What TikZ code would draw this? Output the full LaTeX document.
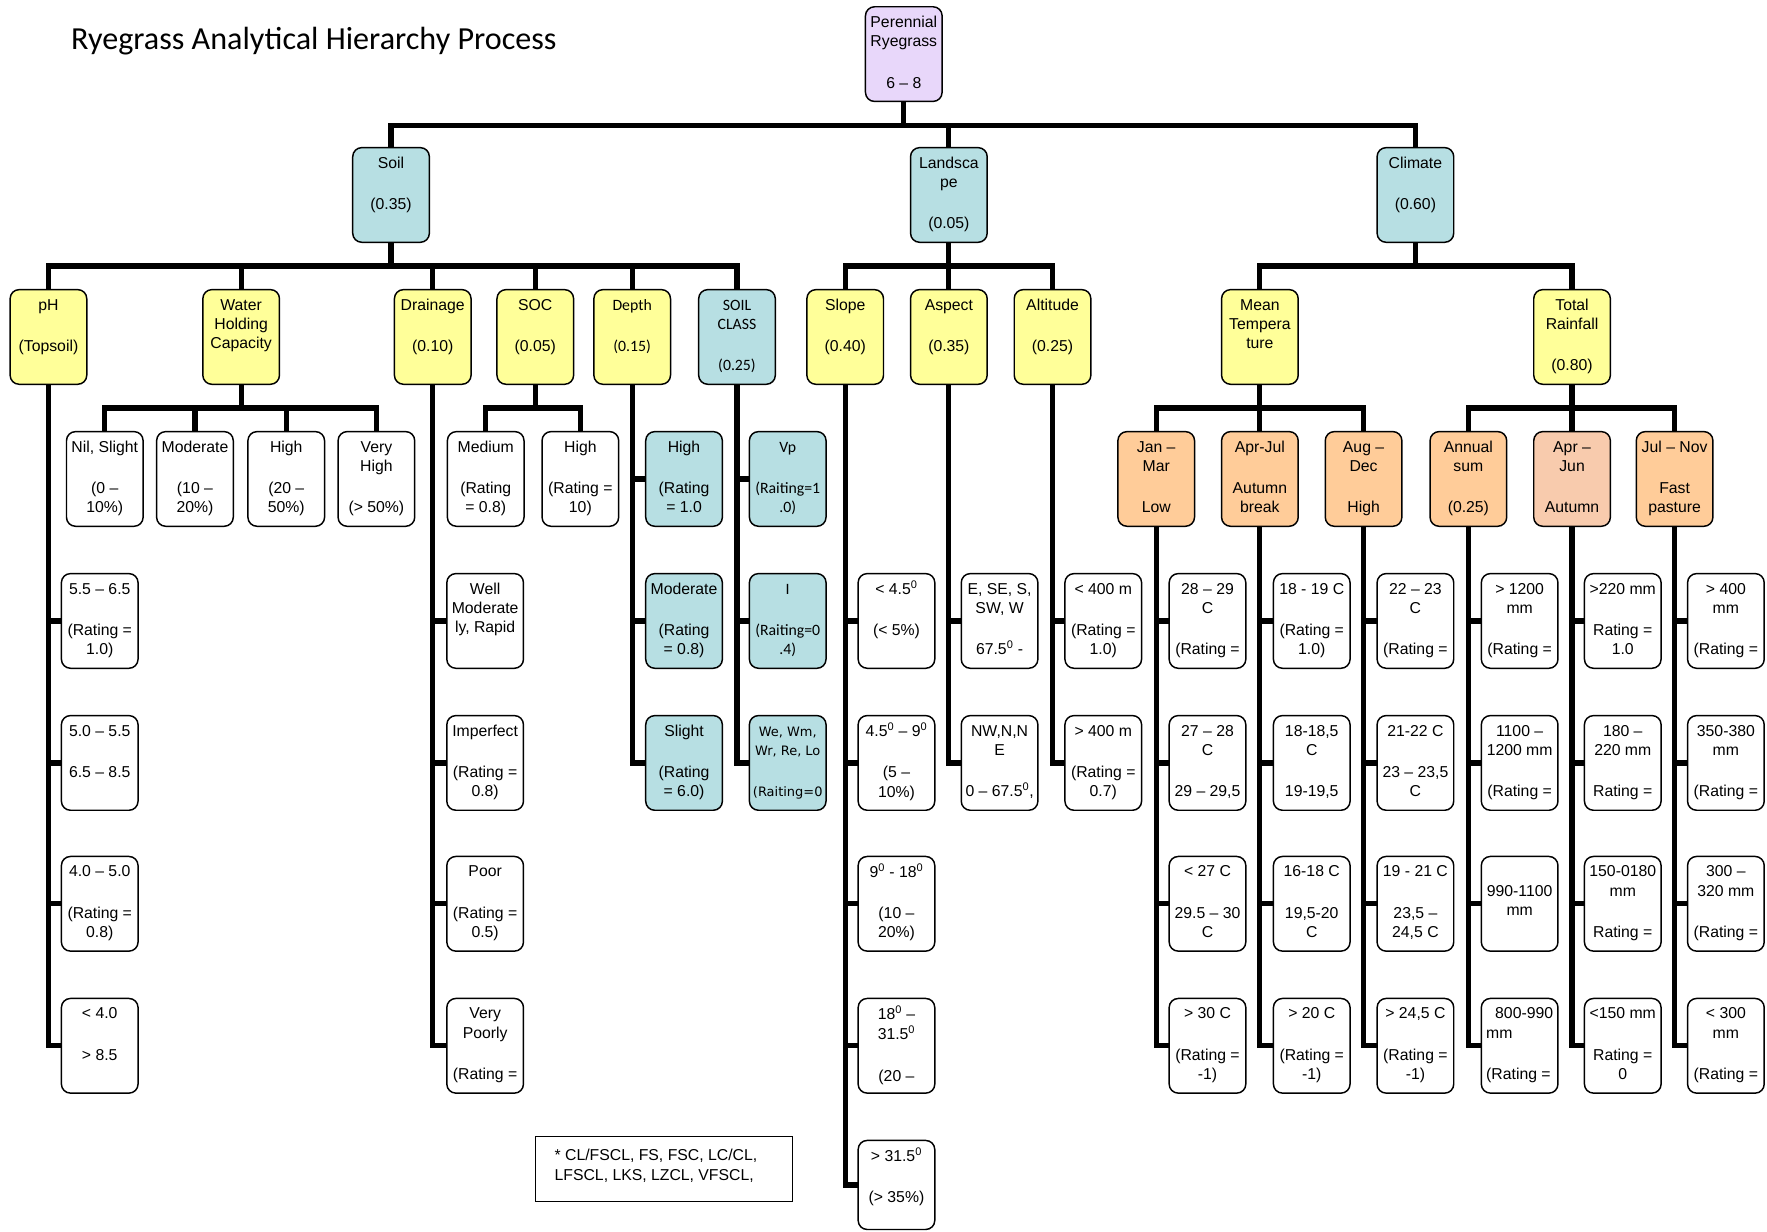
\documentclass[tikz,border=0pt]{standalone}
\usepackage{fontspec}
\setmainfont{Liberation Sans}
\newfontfamily\calibrifont{Carlito}
\newfontfamily\dejavufont{DejaVu Sans}
\usetikzlibrary{backgrounds}
\definecolor{cyel}{HTML}{FFFF99}
\definecolor{cblue}{HTML}{B7DFE3}
\definecolor{corange}{HTML}{FFCC99}
\definecolor{cpeach}{HTML}{F8CBAD}
\definecolor{cpurple}{HTML}{E8D7FA}

% \bx[text options]{box style}{name}{centre x}{top y}{text}
\newcommand\bx[6][]{%
  \node[#2] (#3) at (#4,{-(#5)-42}) {};
  \node[txt,#1] at ([yshift=-6pt]#3.north) {\strut#6};
}
\newcommand\dg{\textsuperscript{0}}

\begin{document}
\begin{tikzpicture}[x=1pt,y=1pt,
  box/.style={draw,line width=1.3pt,rounded corners=8pt,minimum width=68pt,
    minimum height=84pt,inner sep=0pt,outer sep=0pt},
  wbox/.style={box,fill=white},
  ybox/.style={box,fill=cyel},
  bbox/.style={box,fill=cblue},
  obox/.style={box,fill=corange},
  pbox/.style={box,fill=cpeach},
  rbox/.style={box,fill=cpurple},
  txt/.style={anchor=north,align=center,inner sep=0pt,
    font=\fontsize{14}{17}\selectfont},
  cal/.style={font=\calibrifont\fontsize{14}{17}\selectfont},
  dvs/.style={font=\dejavufont\fontsize{11.5}{17}\selectfont},
  link/.style={line width=4.6pt,line join=miter},
]
\useasboundingbox (0,0) rectangle (1568,-1093);

\node[anchor=base west,inner sep=0pt,font=\calibrifont\fontsize{28.5}{34}\selectfont]
  (title) at (63,-44) {Ryegrass Analytical Hierarchy Process};

% goal
\bx{rbox}{root}{802}{6}{Perennial\\Ryegrass\\[20pt]6 – 8}

% criteria
\bx{bbox}{soil}{347}{131}{Soil\\[20pt](0.35)}
\bx{bbox}{land}{842}{131}{Landsca\\pe\\[20pt](0.05)}
\bx{bbox}{clim}{1256}{131}{Climate\\[20pt](0.60)}

% sub-criteria
\bx{ybox}{ph}{43}{257}{pH\\[20pt](Topsoil)}
\bx{ybox}{whc}{214}{257}{Water\\Holding\\Capacity}
\bx{ybox}{drain}{384}{257}{Drainage\\[20pt](0.10)}
\bx{ybox}{soc}{475}{257}{SOC\\[20pt](0.05)}
\bx[cal]{ybox}{depth}{561}{257}{Depth\\[20pt](0.15)}
\bx[cal]{bbox}{sclass}{654}{257}{SOIL\\CLASS\\[20pt](0.25)}
\bx{ybox}{slope}{750}{257}{Slope\\[20pt](0.40)}
\bx{ybox}{aspect}{842}{257}{Aspect\\[20pt](0.35)}
\bx{ybox}{alt}{934}{257}{Altitude\\[20pt](0.25)}
\bx{ybox}{mtemp}{1118}{257}{Mean\\Tempera\\ture}
\bx{ybox}{rain}{1395}{257}{Total\\Rainfall\\[20pt](0.80)}

% row at y = 383
\bx{wbox}{w1}{93}{383}{Nil, Slight\\[20pt](0 –\\10\%)}
\bx{wbox}{w2}{173}{383}{Moderate\\[20pt](10 –\\20\%)}
\bx{wbox}{w3}{254}{383}{High\\[20pt](20 –\\50\%)}
\bx{wbox}{w4}{334}{383}{Very\\High\\[20pt](> 50\%)}
\bx{wbox}{soc1}{431}{383}{Medium\\[20pt](Rating\\= 0.8)}
\bx{wbox}{soc2}{515}{383}{High\\[20pt](Rating =\\10)}
\bx{bbox}{dep1}{607}{383}{High\\[20pt](Rating\\= 1.0}
\bx[cal]{bbox}{sc1}{699}{383}{Vp\\[20pt](Raiting=1\\.0)}
\bx{obox}{jm}{1026}{383}{Jan –\\Mar\\[20pt]Low}
\bx{obox}{aj}{1118}{383}{Apr-Jul\\[20pt]Autumn\\break}
\bx{obox}{ad}{1210}{383}{Aug –\\Dec\\[20pt]High}
\bx{obox}{as}{1303}{383}{Annual\\sum\\[20pt](0.25)}
\bx{pbox}{aju}{1395}{383}{Apr –\\Jun\\[20pt]Autumn}
\bx{obox}{jn}{1486}{383}{Jul – Nov\\[20pt]Fast\\pasture}

% pH classes
\bx{wbox}{ph1}{88.5}{509}{5.5 – 6.5\\[20pt](Rating =\\1.0)}
\bx{wbox}{ph2}{88.5}{635}{5.0 – 5.5\\[20pt]6.5 – 8.5}
\bx{wbox}{ph3}{88.5}{760}{4.0 – 5.0\\[20pt](Rating =\\0.8)}
\bx{wbox}{ph4}{88.5}{886}{< 4.0\\[20pt]> 8.5}

% drainage classes
\bx{wbox}{dr1}{430.5}{509}{Well\\Moderate\\ly, Rapid}
\bx{wbox}{dr2}{430.5}{635}{Imperfect\\[20pt](Rating =\\0.8)}
\bx{wbox}{dr3}{430.5}{760}{Poor\\[20pt](Rating =\\0.5)}
\bx{wbox}{dr4}{430.5}{886}{Very\\Poorly\\[20pt](Rating =}

% depth classes
\bx{bbox}{dep2}{607}{509}{Moderate\\[20pt](Rating\\= 0.8)}
\bx{bbox}{dep3}{607}{635}{Slight\\[20pt](Rating\\= 6.0)}

% soil classes
\bx[cal]{bbox}{sc2}{699}{509}{I\\[20pt](Raiting=0\\.4)}
\bx[dvs]{bbox}{sc3}{699}{635}{We, Wm,\\Wr, Re, Lo\\[20pt](Raiting=0}

% slope classes
\bx{wbox}{sl1}{795.5}{509}{< 4.5\dg\\[20pt](< 5\%)}
\bx{wbox}{sl2}{795.5}{635}{4.5\dg{} – 9\dg\\[20pt](5 –\\10\%)}
\bx{wbox}{sl3}{795.5}{760}{9\dg{} - 18\dg\\[20pt](10 –\\20\%)}
\bx{wbox}{sl4}{795.5}{886}{18\dg{} –\\31.5\dg\\[20pt](20 –}
\bx{wbox,minimum height=79pt,yshift=2.5pt}{sl5}{795.5}{1012}{> 31.5\dg\\[20pt](> 35\%)}

% aspect classes
\bx{wbox}{asp1}{887}{509}{E, SE, S,\\SW, W\\[20pt]67.5\dg{} -}
\bx{wbox}{asp2}{887}{635}{NW,N,N\\E\\[20pt]0 – 67.5\dg,}

% altitude classes
\bx{wbox}{alt1}{979}{509}{< 400 m\\[20pt](Rating =\\1.0)}
\bx{wbox}{alt2}{979}{635}{> 400 m\\[20pt](Rating =\\0.7)}

% Jan - Mar temperature classes
\bx{wbox}{jm1}{1071.5}{509}{28 – 29\\C\\[20pt](Rating =}
\bx{wbox}{jm2}{1071.5}{635}{27 – 28\\C\\[20pt]29 – 29,5}
\bx{wbox}{jm3}{1071.5}{760}{< 27 C\\[20pt]29.5 – 30\\C}
\bx{wbox}{jm4}{1071.5}{886}{> 30 C\\[20pt](Rating =\\-1)}

% Apr - Jul temperature classes
\bx{wbox}{aj1}{1164}{509}{18 - 19 C\\[20pt](Rating =\\1.0)}
\bx{wbox}{aj2}{1164}{635}{18-18,5\\C\\[20pt]19-19,5}
\bx{wbox}{aj3}{1164}{760}{16-18 C\\[20pt]19,5-20\\C}
\bx{wbox}{aj4}{1164}{886}{> 20 C\\[20pt](Rating =\\-1)}

% Aug - Dec temperature classes
\bx{wbox}{ad1}{1256}{509}{22 – 23\\C\\[20pt](Rating =}
\bx{wbox}{ad2}{1256}{635}{21-22 C\\[20pt]23 – 23,5\\C}
\bx{wbox}{ad3}{1256}{760}{19 - 21 C\\[20pt]23,5 –\\24,5 C}
\bx{wbox}{ad4}{1256}{886}{> 24,5 C\\[20pt](Rating =\\-1)}

% annual rainfall classes
\bx{wbox}{as1}{1348.5}{509}{> 1200\\mm\\[20pt](Rating =}
\bx{wbox}{as2}{1348.5}{635}{1100 –\\1200 mm\\[20pt](Rating =}
\bx{wbox}{as3}{1348.5}{760}{\mbox{}\\990-1100\\mm}
\bx[align=left]{wbox}{as4}{1348.5}{886}{\hspace{8pt}800-990\\mm\\[20pt](Rating =}

% Apr - Jun rainfall classes
\bx{wbox}{aju1}{1440}{509}{>220 mm\\[20pt]Rating =\\1.0}
\bx{wbox}{aju2}{1440}{635}{180 –\\220 mm\\[20pt]Rating =}
\bx{wbox}{aju3}{1440}{760}{150-0180\\mm\\[20pt]Rating =}
\bx{wbox}{aju4}{1440}{886}{<150 mm\\[20pt]Rating =\\0}

% Jul - Nov rainfall classes
\bx{wbox}{jn1}{1531.5}{509}{> 400\\mm\\[20pt](Rating =}
\bx{wbox}{jn2}{1531.5}{635}{350-380\\mm\\[20pt](Rating =}
\bx{wbox}{jn3}{1531.5}{760}{300 –\\320 mm\\[20pt](Rating =}
\bx{wbox}{jn4}{1531.5}{886}{< 300\\mm\\[20pt](Rating =}

% footnote on soil classes
\node[draw,line width=1pt,minimum width=228pt,minimum height=58pt,inner sep=0pt,
  anchor=north west,fill=white] (note) at (475,-1008) {};
\node[txt,anchor=north west,align=left] at ([xshift=17pt,yshift=-10pt]note.north west)
  {\strut* CL/FSCL, FS, FSC, LC/CL,\\LFSCL, LKS, LZCL, VFSCL,};

% connectors
\begin{scope}[on background layer]
  % tree branches
  \foreach \p/\c in {root/soil,root/land,root/clim,
      soil/ph,soil/whc,soil/drain,soil/soc,soil/depth,soil/sclass,
      land/slope,land/aspect,land/alt,
      clim/mtemp,clim/rain,
      whc/w1,whc/w2,whc/w3,whc/w4,
      soc/soc1,soc/soc2,
      mtemp/jm,mtemp/aj,mtemp/ad,
      rain/as,rain/aju,rain/jn}
    \draw[link] (\p.south) -- ++(0,-21) -| (\c.north);
  % side rails
  \foreach \p/\c in {ph/ph1,ph/ph2,ph/ph3,ph/ph4,
      drain/dr1,drain/dr2,drain/dr3,drain/dr4,
      depth/dep1,depth/dep2,depth/dep3,
      sclass/sc1,sclass/sc2,sclass/sc3,
      slope/sl1,slope/sl2,slope/sl3,slope/sl4,slope/sl5,
      aspect/asp1,aspect/asp2,
      alt/alt1,alt/alt2,
      jm/jm1,jm/jm2,jm/jm3,jm/jm4,
      aj/aj1,aj/aj2,aj/aj3,aj/aj4,
      ad/ad1,ad/ad2,ad/ad3,ad/ad4,
      as/as1,as/as2,as/as3,as/as4,
      aju/aju1,aju/aju2,aju/aju3,aju/aju4,
      jn/jn1,jn/jn2,jn/jn3,jn/jn4}
    \draw[link] (\p.south) |- (\c.west);
\end{scope}
\end{tikzpicture}
\end{document}
